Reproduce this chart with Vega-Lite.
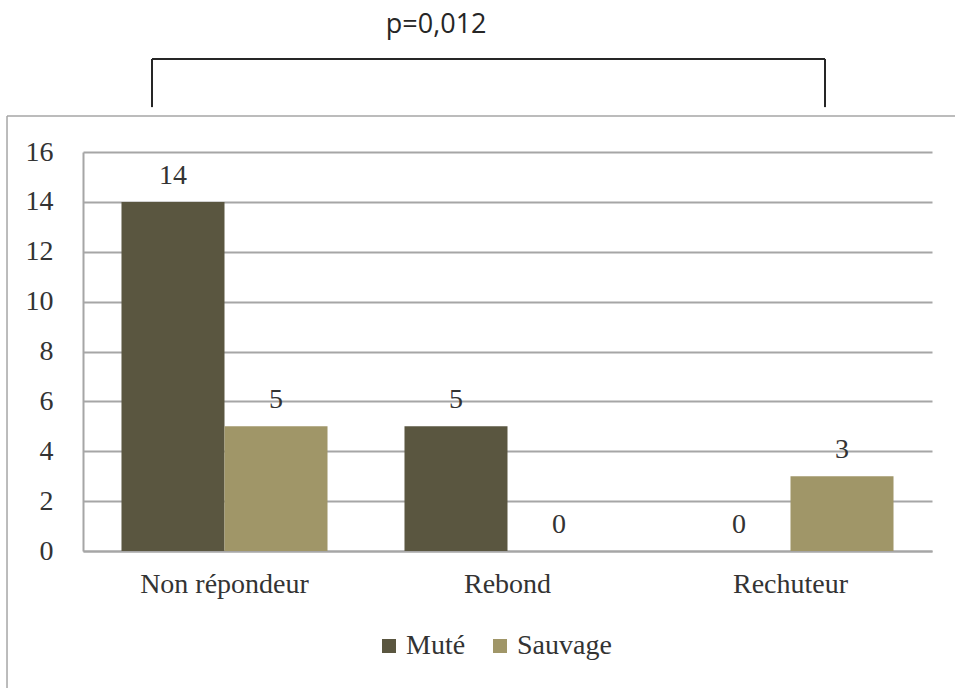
{
  "$schema": "https://vega.github.io/schema/vega-lite/v6.json",
  "autosize": "none",
  "width": 849,
  "height": 399,
  "padding": {"left": 83, "top": 152, "right": 23, "bottom": 137},
  "background": "white",
  "config": {
    "view": {"stroke": null},
    "font": "Liberation Serif"
  },
  "datasets": {
    "bars": [
      {"Categorie": "Non répondeur", "Groupe": "Muté", "Effectif": 14},
      {"Categorie": "Non répondeur", "Groupe": "Sauvage", "Effectif": 5},
      {"Categorie": "Rebond", "Groupe": "Muté", "Effectif": 5},
      {"Categorie": "Rebond", "Groupe": "Sauvage", "Effectif": 0},
      {"Categorie": "Rechuteur", "Groupe": "Muté", "Effectif": 0},
      {"Categorie": "Rechuteur", "Groupe": "Sauvage", "Effectif": 3}
    ],
    "bracket": [
      {"x": 0.0813, "x2": 0.0813, "y": 17.8, "y2": 19.73},
      {"x": 0.0813, "x2": 0.874, "y": 19.73, "y2": 19.73},
      {"x": 0.874, "x2": 0.874, "y": 17.8, "y2": 19.73}
    ],
    "frame": [
      {"x": -0.0895, "x2": -0.0895, "y": -6, "y2": 17.44},
      {"x": -0.0895, "x2": 1.05, "y": 17.44, "y2": 17.44}
    ],
    "pvalue": [
      {"x": 0.416, "y": 21.1, "label": "p=0,012"}
    ]
  },
  "layer": [
    {
      "data": {"name": "frame"},
      "mark": {"type": "rule", "color": "#a6a6a6", "strokeWidth": 1.5, "clip": false},
      "encoding": {
        "x": {"field": "x", "type": "quantitative", "scale": {"domain": [0, 1], "nice": false, "zero": false}, "axis": null},
        "x2": {"field": "x2"},
        "y": {
          "field": "y", "type": "quantitative", "scale": {"domain": [0, 16], "nice": false},
          "axis": {
            "title": null, "values": [0, 2, 4, 6, 8, 10, 12, 14, 16], "labelOverlap": false,
            "labelFontSize": 28, "labelColor": "#333333", "labelPadding": 30,
            "ticks": false, "gridColor": "#a6a6a6", "gridWidth": 2, "gridOpacity": 1,
            "domainColor": "#a6a6a6", "domainWidth": 2, "labelFont": "Liberation Serif"
          }
        },
        "y2": {"field": "y2"}
      }
    },
    {
      "data": {"name": "bars"},
      "layer": [
        {
          "mark": {"type": "bar"},
          "encoding": {
            "x": {
              "field": "Categorie", "type": "nominal", "sort": null,
              "scale": {"paddingInner": 0.272, "paddingOuter": 0.136},
              "axis": {
                "title": null, "labelAngle": 0, "labelFontSize": 28, "labelColor": "#333333",
                "labelPadding": 19, "ticks": false, "domainColor": "#a6a6a6", "domainWidth": 2,
                "labelFont": "Liberation Serif"
              }
            },
            "xOffset": {"field": "Groupe", "type": "nominal", "sort": ["Muté", "Sauvage"]},
            "y": {"field": "Effectif", "type": "quantitative"},
            "color": {
              "field": "Groupe", "type": "nominal",
              "scale": {"domain": ["Muté", "Sauvage"], "range": ["#5a5640", "#a09668"]},
              "legend": {
                "title": null, "orient": "none", "legendX": 292, "legendY": 480,
                "direction": "horizontal", "columns": 2, "symbolType": "square",
                "symbolSize": 196, "symbolStrokeWidth": 0, "labelFontSize": 28,
                "labelColor": "#333333", "labelOffset": 3, "columnPadding": 20,
                "labelFont": "Liberation Serif"
              }
            }
          }
        },
        {
          "mark": {"type": "text", "baseline": "alphabetic", "dy": -18, "fontSize": 28, "color": "#333333", "font": "Liberation Serif"},
          "encoding": {
            "x": {"field": "Categorie", "type": "nominal", "sort": null},
            "xOffset": {"field": "Groupe", "type": "nominal", "sort": ["Muté", "Sauvage"]},
            "y": {"field": "Effectif", "type": "quantitative"},
            "text": {"field": "Effectif", "type": "quantitative"}
          }
        }
      ]
    },
    {
      "data": {"name": "bracket"},
      "mark": {"type": "rule", "color": "#262626", "strokeWidth": 2, "clip": false},
      "encoding": {
        "x": {"field": "x", "type": "quantitative", "scale": {"domain": [0, 1], "nice": false, "zero": false}, "axis": null},
        "x2": {"field": "x2"},
        "y": {"field": "y", "type": "quantitative"},
        "y2": {"field": "y2"}
      }
    },
    {
      "data": {"name": "pvalue"},
      "mark": {"type": "text", "font": "Open Sans", "fontSize": 27, "color": "#262626", "baseline": "middle", "align": "center", "clip": false},
      "encoding": {
        "x": {"field": "x", "type": "quantitative", "scale": {"domain": [0, 1], "nice": false, "zero": false}, "axis": null},
        "y": {"field": "y", "type": "quantitative"},
        "text": {"field": "label"}
      }
    }
  ],
  "resolve": {"scale": {"x": "independent", "xOffset": "independent"}}
}
